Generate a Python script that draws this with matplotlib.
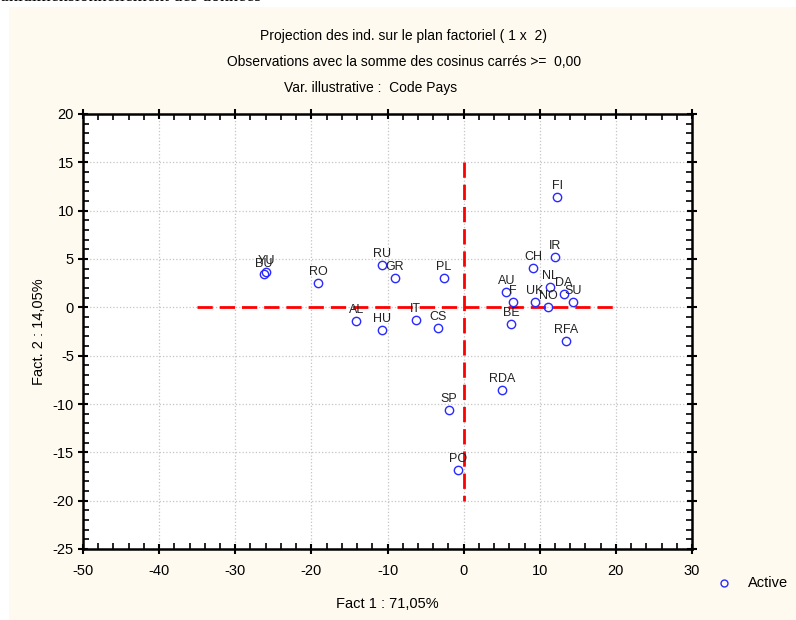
import matplotlib
matplotlib.use('Agg')
import matplotlib.pyplot as plt
from matplotlib.ticker import MultipleLocator

plt.rcParams['font.family'] = ['Liberation Sans', 'DejaVu Sans']
plt.rcParams['axes.unicode_minus'] = False

# individus (pays) projetes sur le plan factoriel 1 x 2
codes = ['FI', 'IR', 'CH', 'NL', 'DA', 'SU', 'AU', 'F', 'UK', 'NO', 'BE', 'RFA',
         'RDA', 'SP', 'PO', 'PL', 'RU', 'GR', 'RO', 'YU', 'BU', 'AL', 'HU', 'IT', 'CS']
fact1 = [12.3, 12.0, 9.1, 11.4, 13.2, 14.4, 5.6, 6.5, 9.4, 11.1, 6.2, 13.5,
         5.0, -1.9, -0.7, -2.6, -10.7, -9.0, -19.1, -25.9, -26.2, -14.1, -10.7, -6.3, -3.4]
fact2 = [11.4, 5.2, 4.1, 2.1, 1.4, 0.6, 1.6, 0.6, 0.6, 0.0, -1.7, -3.5,
         -8.5, -10.6, -16.8, 3.0, 4.4, 3.0, 2.5, 3.7, 3.4, -1.4, -2.3, -1.3, -2.1]

# axes de reference (traits rouges)
h_line_x = [-35, 20]
v_line_y = [15, -20]

fig = plt.figure(figsize=(7.96, 6.2), dpi=100)
fig.patch.set_facecolor('white')
# fond creme du graphique
fig.patches.append(plt.Rectangle((9/796, 0), 1, 1 - 7/620, transform=fig.transFigure,
                                 facecolor='#FFFAF0', edgecolor='none', zorder=-10))
# bout de texte coupe en haut de l'image
fig.text(0.0, 1 - 1/620, 'unidimensionnellement des données', family='Liberation Serif',
         fontsize=13, va='baseline', ha='left')

ax = fig.add_axes([83/796, 1 - 549/620, 609/796, 435/620])
ax.set_facecolor('white')

ax.plot(h_line_x, [0, 0], color='red', lw=2, dashes=(5.5, 2.5), zorder=2)
ax.plot([0, 0], v_line_y, color='red', lw=2, dashes=(5.5, 2.5), zorder=2)

ax.plot(fact1, fact2, 'o', ms=6, mfc='none', mec='#2a2aFF', mew=1, zorder=3)
for c, x, y in zip(codes, fact1, fact2):
    ax.annotate(c, (x, y), xytext=(0, 3.5), textcoords='offset points',
                ha='center', va='bottom', fontsize=9, color='#222222', zorder=4)

ax.set_xlim(-50, 30)
ax.set_ylim(-25, 20)
ax.xaxis.set_major_locator(MultipleLocator(10))
ax.xaxis.set_minor_locator(MultipleLocator(2))
ax.yaxis.set_major_locator(MultipleLocator(5))
ax.yaxis.set_minor_locator(MultipleLocator(1))
ax.tick_params(which='major', direction='inout', length=7, width=1.5,
               top=True, right=True, labelsize=10.5)
ax.tick_params(axis='x', which='major', pad=7)
ax.tick_params(axis='y', which='major', pad=3)
ax.tick_params(which='minor', direction='in', length=4, width=1.2, top=True, right=True)
ax.grid(True, which='major', color='#C4C4C4', ls=':', lw=0.9)
ax.set_axisbelow(True)
for s in ax.spines.values():
    s.set_linewidth(1.8)

ax.set_xlabel('Fact 1 : 71,05%', fontsize=10.5, labelpad=14)
ax.set_ylabel('Fact. 2 : 14,05%', fontsize=10.5, labelpad=5)

fig.text(404/796, 1 - 36/620, 'Projection des ind. sur le plan factoriel ( 1 x  2)',
         ha='center', va='center', fontsize=10)
fig.text(404/796, 1 - 62/620, 'Observations avec la somme des cosinus carrés >=  0,00',
         ha='center', va='center', fontsize=10)
fig.text(371/796, 1 - 88/620, 'Var. illustrative :  Code Pays',
         ha='center', va='center', fontsize=10)

# legende
fig.lines.append(plt.Line2D([724/796], [1 - 583/620], transform=fig.transFigure,
                            marker='o', ms=5, mfc='none', mec='#2a2aFF', mew=1, ls='none'))
fig.text(748/796, 1 - 583/620, 'Active', va='center', ha='left', fontsize=10.5)

fig.savefig('out.png', dpi=100, facecolor=fig.get_facecolor())
